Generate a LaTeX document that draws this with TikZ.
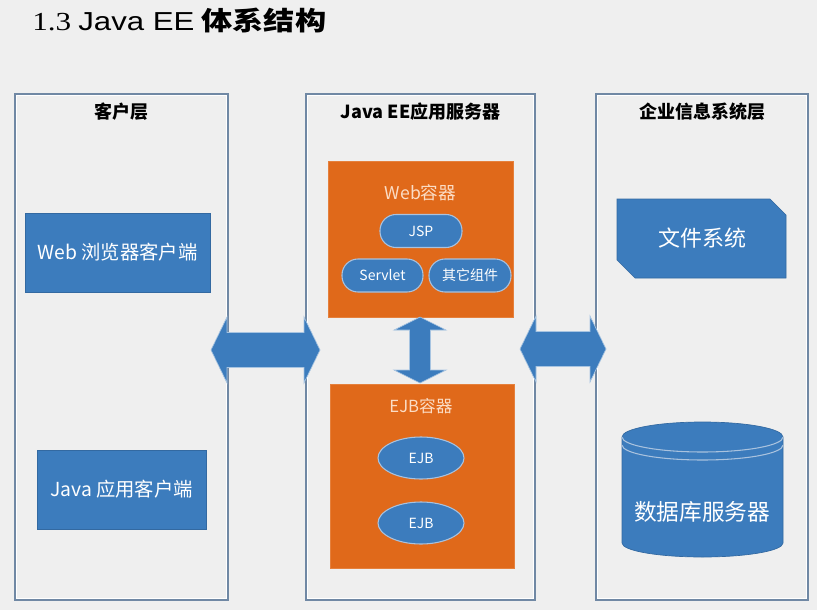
\documentclass[tikz,border=0pt]{standalone}
\usepackage{fontspec}
\setmainfont{Noto Sans CJK SC}
\newfontfamily\serfont{Liberation Serif}
\newfontfamily\arifont{Liberation Sans}
\usetikzlibrary{shapes.geometric,calc}
\newlength\PX \setlength\PX{0.75pt}
\definecolor{bg}{HTML}{EFEFEF}
\definecolor{blueA}{HTML}{3C7CBD}
\definecolor{orangeA}{HTML}{E0691A}
\definecolor{colline}{HTML}{7088A4}
\definecolor{peach}{HTML}{FBDCC4}
\definecolor{pillline}{HTML}{A9C2DE}
\tikzset{
 colbox/.style={draw=colline, line width=1.2pt, inner sep=0},
 innerline/.style={draw=white, line width=0.7pt},
 coltitle/.style={font=\fontsize{13.5pt}{16pt}\selectfont\bfseries, text=black, inner sep=0},
 bluebox/.style={fill=blueA, draw=blueA!85!black, line width=0.5pt, text=white,
   font=\fontsize{14.5pt}{16pt}\selectfont, inner sep=0},
 container/.style={fill=orangeA, draw=orangeA!85!white, line width=0.5pt, inner sep=0},
 ctitle/.style={text=peach, font=\fontsize{12.5pt}{14pt}\selectfont, inner sep=0},
 pill/.style={fill=blueA, draw=pillline, line width=0.8pt, rounded corners=12pt, text=white,
   font=\fontsize{10.5pt}{12pt}\selectfont, inner sep=0, minimum height=33\PX},
 ejbnode/.style={ellipse, fill=blueA, draw=pillline, line width=0.8pt, text=white,
   font=\fontsize{10.5pt}{12pt}\selectfont, inner sep=0, minimum width=86\PX, minimum height=42\PX},
 blockarr/.style={fill=blueA, draw=white!55!blueA, line width=0.5pt, line join=miter},
 bigtext/.style={text=white, inner sep=0, font=\fontsize{16.5pt}{18pt}\selectfont},
}
\newcommand\harrowshape[3]{%
 \filldraw[blockarr] (#1,#3) -- (#1+16,#3-33) -- (#1+16,#3-17.5) -- (#2-16,#3-17.5) -- (#2-16,#3-33)
  -- (#2,#3) -- (#2-16,#3+33) -- (#2-16,#3+17.5) -- (#1+16,#3+17.5) -- (#1+16,#3+33) -- cycle;}
\begin{document}
\begin{tikzpicture}[x=0.75pt,y=-0.75pt]
\fill[bg] (0,0) rectangle (817,610);
\useasboundingbox (0,0) rectangle (817,610);
% title
\node[anchor=base west, inner sep=0, xscale=1.2] (title) at (32,31)
  {\fontsize{19.5pt}{22pt}\selectfont{\serfont 1.3} {\arifont Java EE} {\bfseries 体系结构}};
% columns
\node[colbox, minimum width=213\PX, minimum height=506\PX] (lcol) at (121.5,347) {};
\node[colbox, minimum width=229\PX, minimum height=506\PX] (mcol) at (420.5,347) {};
\node[colbox, minimum width=212\PX, minimum height=506\PX] (rcol) at (702,347) {};
\foreach \c in {lcol,mcol,rcol}{
  \draw[innerline] ([shift={(1.6pt,1.6pt)}]\c.south west) rectangle ([shift={(-1.6pt,-1.6pt)}]\c.north east);
}
\node[coltitle] (lt) at (121.5,112) {客户层};
\node[coltitle] (mt) at (420.5,112) {Java EE应用服务器};
\node[coltitle] (rt) at (702,112) {企业信息系统层};
% client tier
\node[bluebox, minimum width=185\PX, minimum height=79\PX] (web) at (117.5,252.5) {Web 浏览器客户端};
\node[bluebox, minimum width=169\PX, minimum height=79\PX] (japp) at (121.5,489.5) {Java 应用客户端};
% containers
\node[container, minimum width=185\PX, minimum height=156\PX] (webc) at (420.5,239) {};
\node[ctitle, font=\fontsize{13.2pt}{14pt}\selectfont] (webt) at (420.5,193) {Web容器};
\node[pill, minimum width=82\PX] (jsp) at (421,231) {JSP};
\node[pill, minimum width=81\PX] (servlet) at (382.5,275.5) {Servlet};
\node[pill, minimum width=82\PX] (other) at (470,275.5) {其它组件};
\node[container, minimum width=184\PX, minimum height=184\PX] (ejbc) at (422,476) {};
\node[ctitle] (ejbt) at (421,406) {EJB容器};
\node[ejbnode] (ejb1) at (421,458) {EJB};
\node[ejbnode] (ejb2) at (421,523) {EJB};
% file system
\filldraw[fill=blueA, draw=blueA!85!black, line width=0.5pt]
  (617,199) -- (770,199) -- (786,215) -- (786,278) -- (635,278) -- (617,260) -- cycle;
\node[bigtext] (fs) at (702,238) {文件系统};
% database cylinder
\filldraw[fill=blueA, draw=blueA!85!black, line width=0.5pt]
  (622,437) -- (622,543) arc (180:360:60.375pt and 10.5pt) -- (783,437)
  arc (0:180:60.375pt and 11.25pt) -- cycle;
\draw[pillline, line width=0.8pt] (622,437) arc (180:360:60.375pt and 11.25pt);
\draw[pillline, line width=0.8pt] (622,445) arc (180:360:60.375pt and 11.25pt);
\node[bigtext, font=\fontsize{17pt}{19pt}\selectfont] (db) at (702,512) {数据库服务器};
% block arrows
\harrowshape{211}{320}{350}
\harrowshape{520}{606}{349}
\filldraw[blockarr] (420,317) -- (446,330) -- (430.5,330) -- (430.5,370) -- (446,370) -- (420,383)
  -- (394,370) -- (409.5,370) -- (409.5,330) -- (394,330) -- cycle;
\end{tikzpicture}
\end{document}
